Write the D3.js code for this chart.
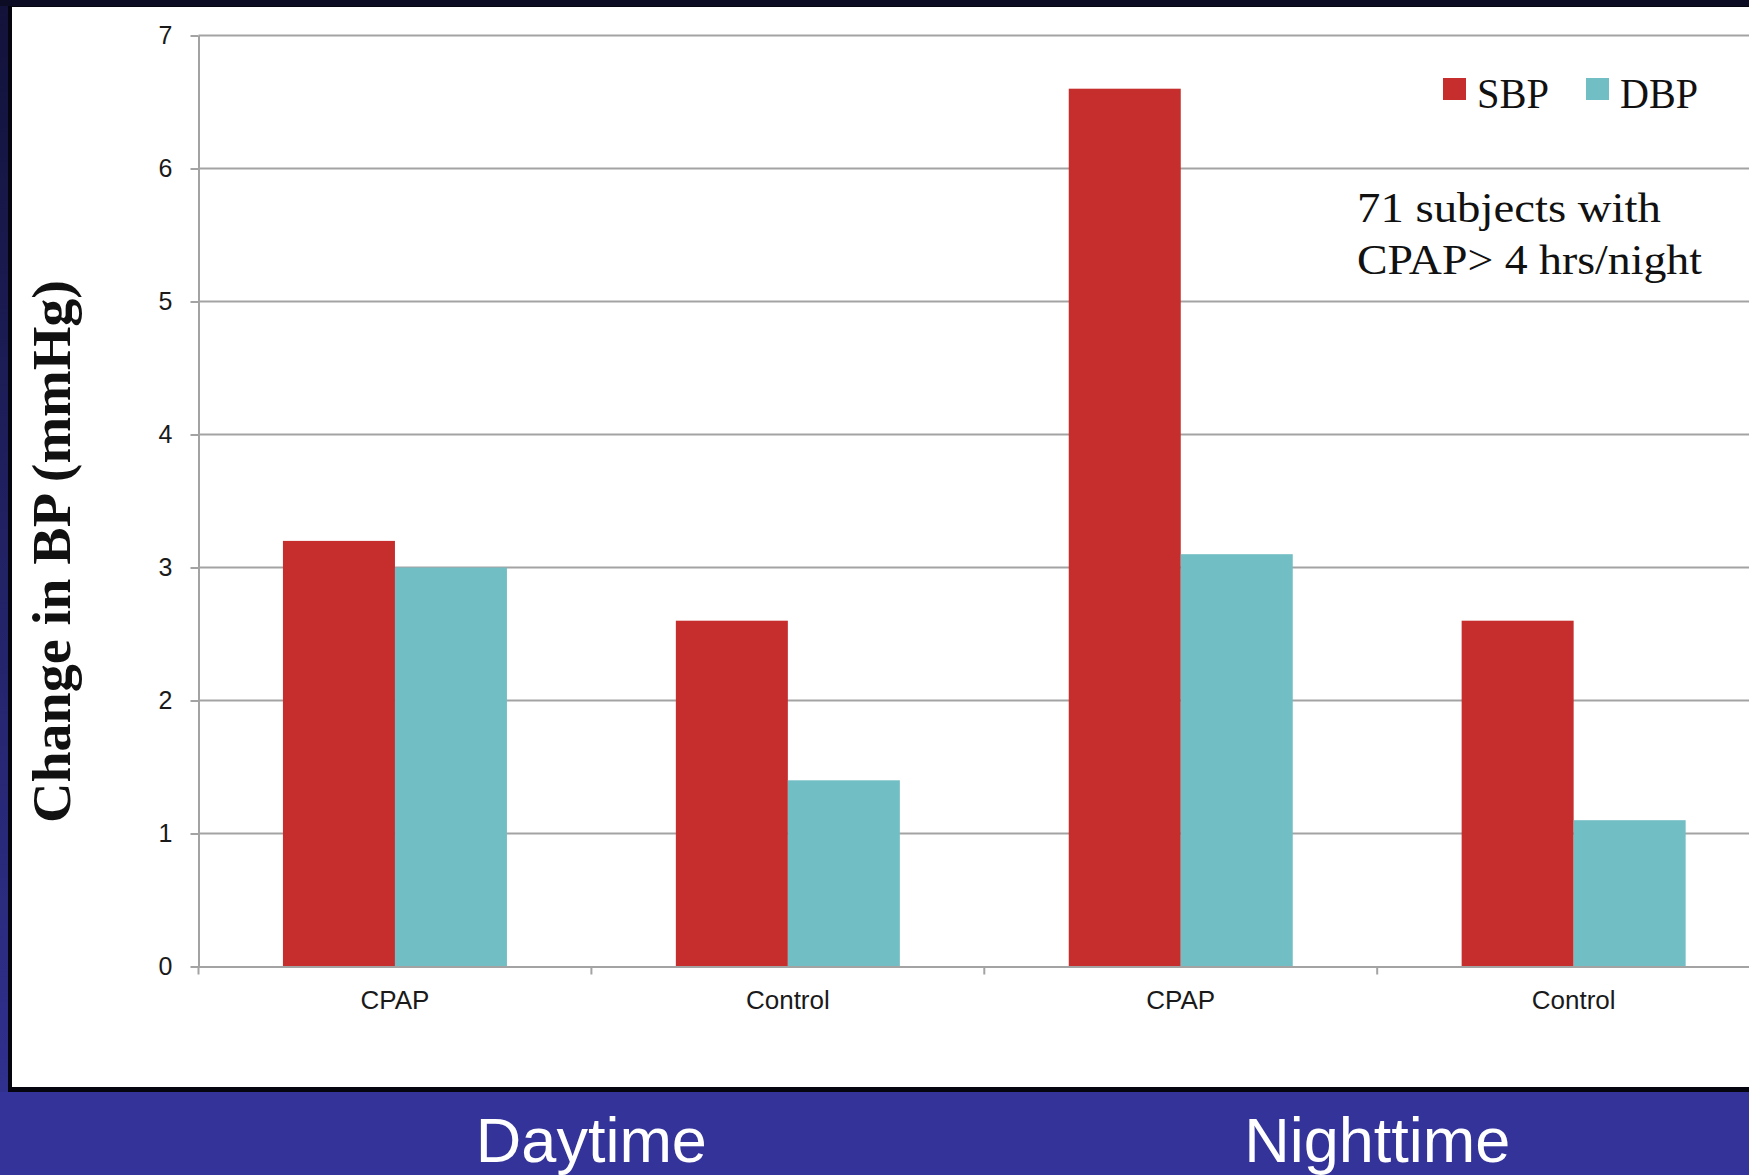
<!DOCTYPE html>
<html>
<head>
<meta charset="utf-8">
<script src="https://cdn.jsdelivr.net/npm/d3@7"></script>
<style>
  html, body { margin: 0; padding: 0; background: #333399; overflow: hidden; }
  svg { display: block; }
</style>
</head>
<body>
<svg id="chart" width="1749" height="1175"></svg>
<script>
// ---- data ----
const periods = ["Daytime", "Nighttime"];
const arms = ["CPAP", "Control"];
const seriesNames = ["SBP", "DBP"];
const sbpValues = [3.2, 2.6, 6.6, 2.6];   // Daytime CPAP, Daytime Control, Nighttime CPAP, Nighttime Control
const dbpValues = [3.0, 1.4, 3.1, 1.1];
const yTicks = [0, 1, 2, 3, 4, 5, 6, 7];
const yTitle = "Change in BP (mmHg)";
const noteLines = ["71 subjects with", "CPAP> 4 hrs/night"];

// ---- layout ----
const W = 1749, H = 1175;
const axisX = 198.5, y0px = 966.5, y7px = 35.5;
const step = 392.9;
const colors = { SBP: "#c62d2d", DBP: "#72bec5" };
const gridColor = "#a3a3a3";

const svg = d3.select("#chart");

// slide frame: blue ground, dark border, white panel
const defs = svg.append("defs");
const lg = defs.append("linearGradient").attr("id", "leftEdge")
  .attr("x1", 0).attr("y1", 0).attr("x2", 0).attr("y2", 1);
lg.append("stop").attr("offset", "0%").attr("stop-color", "#12123a");
lg.append("stop").attr("offset", "100%").attr("stop-color", "#30308e");

svg.append("rect").attr("width", W).attr("height", H).attr("fill", "#333399");
svg.append("rect").attr("x", 0).attr("y", 0).attr("width", 9).attr("height", 1092).attr("fill", "url(#leftEdge)");
svg.append("rect").attr("x", 8).attr("y", 0).attr("width", W).attr("height", 1092).attr("fill", "#050510");
svg.append("rect").attr("x", 0).attr("y", 0).attr("width", W).attr("height", 6).attr("fill", "#0c0c24");
svg.append("rect").attr("x", 12).attr("y", 7).attr("width", W).attr("height", 1080).attr("fill", "#ffffff");

// ---- scales ----
const keys = periods.flatMap(p => arms.map(a => p + "|" + a));
const x0 = d3.scaleBand().domain(keys).range([axisX, axisX + step * keys.length]).padding(0);
const x1 = d3.scaleBand().domain(seriesNames).range([0, x0.bandwidth()])
  .paddingInner(0).paddingOuter(0.754);
const y = d3.scaleLinear().domain([0, 7]).range([y0px, y7px]);

const rows = keys.map((k, i) => ({ key: k, SBP: sbpValues[i], DBP: dbpValues[i] }));

// ---- gridlines ----
svg.append("g").selectAll("line").data(yTicks.filter(t => t > 0)).join("line")
  .attr("x1", axisX).attr("x2", W)
  .attr("y1", d => y(d)).attr("y2", d => y(d))
  .attr("stroke", gridColor).attr("stroke-width", 2);

// ---- bars ----
svg.append("g").selectAll("g").data(rows).join("g")
  .attr("transform", d => `translate(${x0(d.key)},0)`)
  .selectAll("rect").data(d => seriesNames.map(s => ({ s, v: d[s] }))).join("rect")
  .attr("x", d => x1(d.s)).attr("width", x1.bandwidth())
  .attr("y", d => y(d.v)).attr("height", d => y(0) - y(d.v))
  .attr("fill", d => colors[d.s]);

// ---- y axis ----
const yAxis = svg.append("g").attr("transform", `translate(${axisX},0)`)
  .call(d3.axisLeft(y).tickValues(yTicks).tickFormat(d3.format("d"))
    .tickSize(8).tickSizeOuter(0).tickPadding(18));
yAxis.select(".domain").attr("stroke", gridColor).attr("stroke-width", 2);
yAxis.selectAll(".tick line").attr("stroke", gridColor).attr("stroke-width", 2);
yAxis.selectAll(".tick text")
  .attr("font-family", "'Liberation Sans', Arial, sans-serif")
  .attr("font-size", 25).attr("fill", "#1a1a1a");

// ---- x axis ----
const xAxis = svg.append("g").attr("transform", `translate(0,${y0px})`)
  .call(d3.axisBottom(x0).tickSize(0).tickSizeOuter(0).tickPadding(24)
    .tickFormat(k => k.split("|")[1]));
xAxis.select(".domain").attr("stroke", gridColor).attr("stroke-width", 2);
xAxis.selectAll(".tick text")
  .attr("font-family", "'Liberation Sans', Arial, sans-serif")
  .attr("font-size", 26).attr("fill", "#1a1a1a");

// category boundary ticks
const bounds = keys.map(k => x0(k)).concat([x0(keys[keys.length - 1]) + x0.bandwidth()]);
svg.append("g").selectAll("line").data(bounds).join("line")
  .attr("x1", d => d).attr("x2", d => d)
  .attr("y1", y0px).attr("y2", y0px + 8)
  .attr("stroke", gridColor).attr("stroke-width", 2);

// ---- y title ----
svg.append("text")
  .attr("transform", `translate(70,${(280 + 823) / 2}) rotate(-90)`)
  .attr("text-anchor", "middle")
  .attr("font-family", "'Liberation Serif', 'Times New Roman', serif")
  .attr("font-weight", "bold").attr("font-size", 55)
  .attr("textLength", 543).attr("lengthAdjust", "spacingAndGlyphs")
  .attr("fill", "#111")
  .text(yTitle);

// ---- legend ----
const legendPos = { SBP: 1443, DBP: 1586 };
const legendWidths = { SBP: 72, DBP: 78 };
const legend = svg.append("g");
seriesNames.forEach(s => {
  legend.append("rect").attr("x", legendPos[s]).attr("y", 78)
    .attr("width", 23).attr("height", 22).attr("fill", colors[s]);
  legend.append("text").attr("x", legendPos[s] + 34).attr("y", 108)
    .attr("font-family", "'Liberation Serif', 'Times New Roman', serif")
    .attr("font-size", 42).attr("fill", "#111")
    .attr("textLength", legendWidths[s]).attr("lengthAdjust", "spacingAndGlyphs")
    .text(s);
});

// ---- annotation ----
const noteWidths = [304, 345];
svg.append("g").selectAll("text").data(noteLines).join("text")
  .attr("x", 1357).attr("y", (d, i) => 221.5 + i * 52.5)
  .attr("font-family", "'Liberation Serif', 'Times New Roman', serif")
  .attr("font-size", 43).attr("fill", "#111")
  .attr("textLength", (d, i) => noteWidths[i]).attr("lengthAdjust", "spacingAndGlyphs")
  .text(d => d);

// ---- period labels under the panel ----
svg.append("g").selectAll("text").data(periods).join("text")
  .attr("x", p => x0(p + "|" + arms[1]))
  .attr("y", 1162)
  .attr("text-anchor", "middle")
  .attr("font-family", "'Liberation Sans', Arial, sans-serif")
  .attr("font-size", 63).attr("fill", "#ffffff")
  .text(p => p);
</script>
</body>
</html>
